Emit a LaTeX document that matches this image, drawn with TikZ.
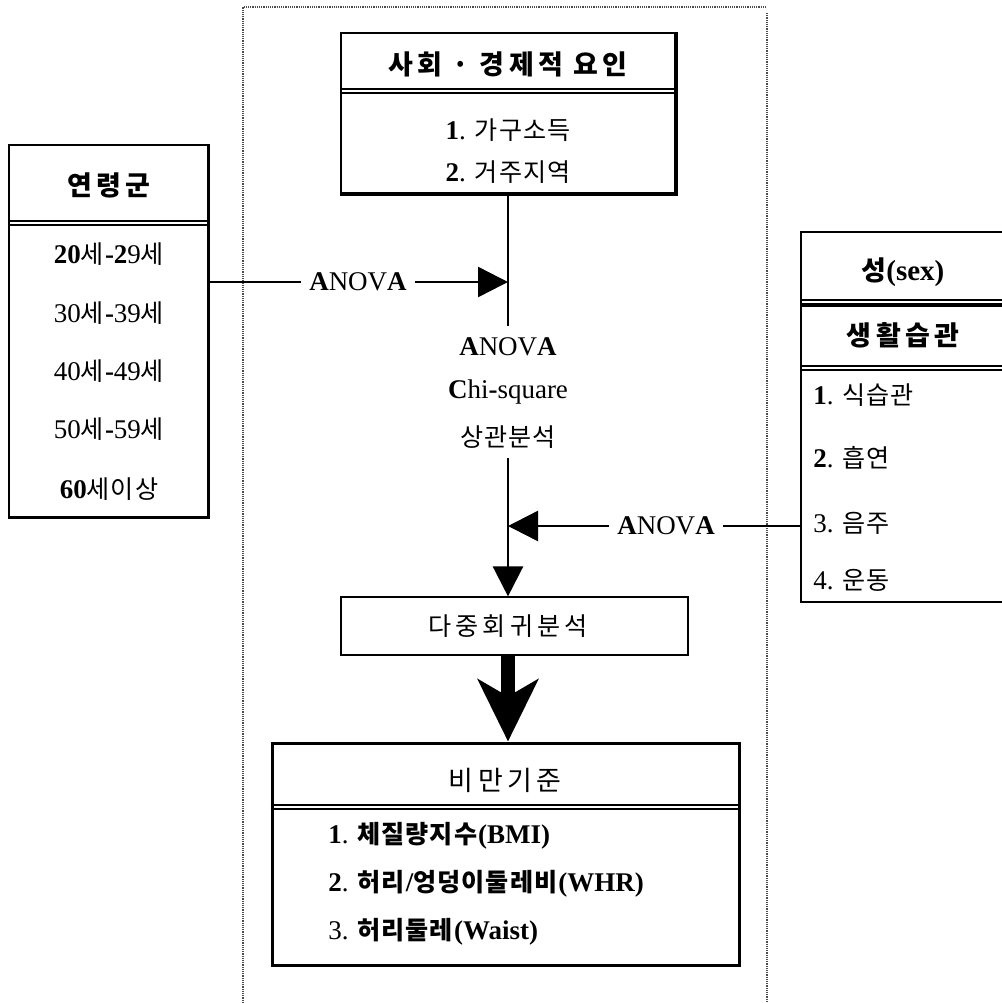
\documentclass[tikz,border=0pt]{standalone}
\usepackage{fontspec}
\setmainfont{Liberation Serif}
\newfontfamily\kr{Noto Sans CJK KR}[LetterSpace=4,Scale=0.93]
\newfontfamily\krw{Noto Sans CJK KR}[LetterSpace=16,Scale=0.93]
\usetikzlibrary{arrows.meta,fit}
\newcommand\ko[1]{{\kr #1}}
\newcommand\kw[1]{{\krw #1}}
\begin{document}
\begin{tikzpicture}[x=0.5pt,y=-0.5pt,
  txt/.style={inner sep=0pt, font=\fontsize{13.5}{16}\selectfont},
  ttl/.style={inner sep=0pt, font=\fontsize{14.5}{17}\selectfont\bfseries},
  box/.style={draw, line width=0.6pt, inner sep=0pt},
  heavy/.style={line width=1.6pt, line cap=square},
  sepl/.style={line width=0.6pt},
  conn/.style={line width=1.25pt},
  tri/.style={line width=1.25pt, -{Triangle[length=15pt,width=15pt]}},
  bigarrow/.style={line width=7pt, -{Stealth[length=31pt,width=30pt,inset=8.5pt]}},
  frame/.style={line width=0.7pt, black!70, dash pattern=on 0.6pt off 0.5pt},
  lab/.style={txt, fill=white, inner xsep=4pt, inner ysep=2pt}]
\useasboundingbox (0,0) rectangle (1002,1003);

% outer frame
\draw[frame] (243,1003) -- (243,7) -- (767,7);
\draw[frame] (767,13) -- (767,1003);

% socio-economic box
\node[box, line width=1pt, fit={(341,33) (675,193)}] (socio) {};
\draw[heavy] (socio.north east) -- (socio.south east) -- (socio.south west);
\draw[sepl] (socio.west |- 0,89) -- (socio.east |- 0,89);
\draw[sepl] (socio.west |- 0,93) -- (socio.east |- 0,93);
\node[ttl] (socioT) at (508,64) {\kw{사회 · 경제적 요인}};
\node[txt] (s1) at (508,130) {\textbf{1}. \ko{가구소득}};
\node[txt] (s2) at (508,172) {\textbf{2}. \ko{거주지역}};

% age box
\node[box, fit={(9,145) (208,517)}] (age) {};
\draw[heavy] (age.north east) -- (age.south east) -- (age.south west);
\draw[sepl] (age.west |- 0,221) -- (age.east |- 0,221);
\draw[sepl] (age.west |- 0,225) -- (age.east |- 0,225);
\node[ttl] (ageT) at (109,185) {\kw{연령군}};
\node[txt] (a1) at (109,254) {\textbf{20}\ko{세}\textbf{-2}9\ko{세}};
\node[txt] (a2) at (109,313) {30\ko{세}\textbf{-}39\ko{세}};
\node[txt] (a3) at (109,371) {40\ko{세}\textbf{-}49\ko{세}};
\node[txt] (a4) at (109,429) {50\ko{세}\textbf{-}59\ko{세}};
\node[txt] (a5) at (109,489) {\textbf{60}\ko{세이상}};

% sex / lifestyle box
\node[box, fit={(801,232) (1012,602)}] (sexbox) {};
\draw[sepl] (sexbox.west |- 0,300) -- (sexbox.east |- 0,300);
\draw[heavy] (sexbox.west |- 0,305) -- (sexbox.east |- 0,305);
\draw[sepl] (sexbox.west |- 0,366) -- (sexbox.east |- 0,366);
\draw[sepl] (sexbox.west |- 0,370) -- (sexbox.east |- 0,370);
\node[ttl] (sexT) at (903,272) {\kw{성}(sex)};
\node[ttl] (lifeT) at (903,335) {\kw{생활습관}};
\node[txt, anchor=west] (r1) at (813,395) {\textbf{1}. \ko{식습관}};
\node[txt, anchor=west] (r2) at (813,458) {\textbf{2}. \ko{흡연}};
\node[txt, anchor=west] (r3) at (813,523) {3. \ko{음주}};
\node[txt, anchor=west] (r4) at (813,580) {4. \ko{운동}};

% middle analysis labels
\coordinate (vtop) at (508,326);
\coordinate (vbot) at (508,458);
\coordinate (jL) at (508,282);
\coordinate (jR) at (508,526);
\draw[conn] (socio.south) -- (vtop);
\node[txt] (m1) at (508,347) {\textbf{A}NOV\textbf{A}};
\node[txt] (m2) at (508,392) {\textbf{C}hi\textbf{-}square};
\node[txt] (m3) at (508,437) {\ko{상관분석}};

% multiple regression box
\node[box, fit={(341,597) (688,655)}] (multi) {};
\node[txt] (multiT) at (508,626) {\kw{다중회귀분석}};

% obesity criteria box
\node[box, line width=1.5pt, fit={(272,743) (739,965)}] (obese) {};
\draw[sepl] (obese.west |- 0,805) -- (obese.east |- 0,805);
\draw[sepl] (obese.west |- 0,809) -- (obese.east |- 0,809);
\node[ttl, font=\fontsize{14.5}{17}\selectfont] (obT) at (505,780) {\kw{비만기준}};
\node[txt, anchor=west] (o1) at (328,836) {\textbf{1}. \ko{\bfseries 체질량지수}\textbf{(BMI)}};
\node[txt, anchor=west] (o2) at (328,884) {\textbf{2}. \ko{\bfseries 허리}\textbf{/}\ko{\bfseries 엉덩이둘레비}\textbf{(WHR)}};
\node[txt, anchor=west] (o3) at (328,932) {3. \ko{\bfseries 허리둘레}\textbf{(Waist)}};

% connectors
\draw[tri] (age.east |- jL) -- (jL);
\node[lab] (aL) at (358,282) {\textbf{A}NOV\textbf{A}};
\draw[tri] (sexbox.west |- jR) -- (jR);
\node[lab] (aR) at (666,526) {\textbf{A}NOV\textbf{A}};
\draw[tri] (vbot) -- (vbot |- multi.north);
\draw[bigarrow] (multi.south -| vbot) -- (obese.north -| vbot);
\end{tikzpicture}
\end{document}
